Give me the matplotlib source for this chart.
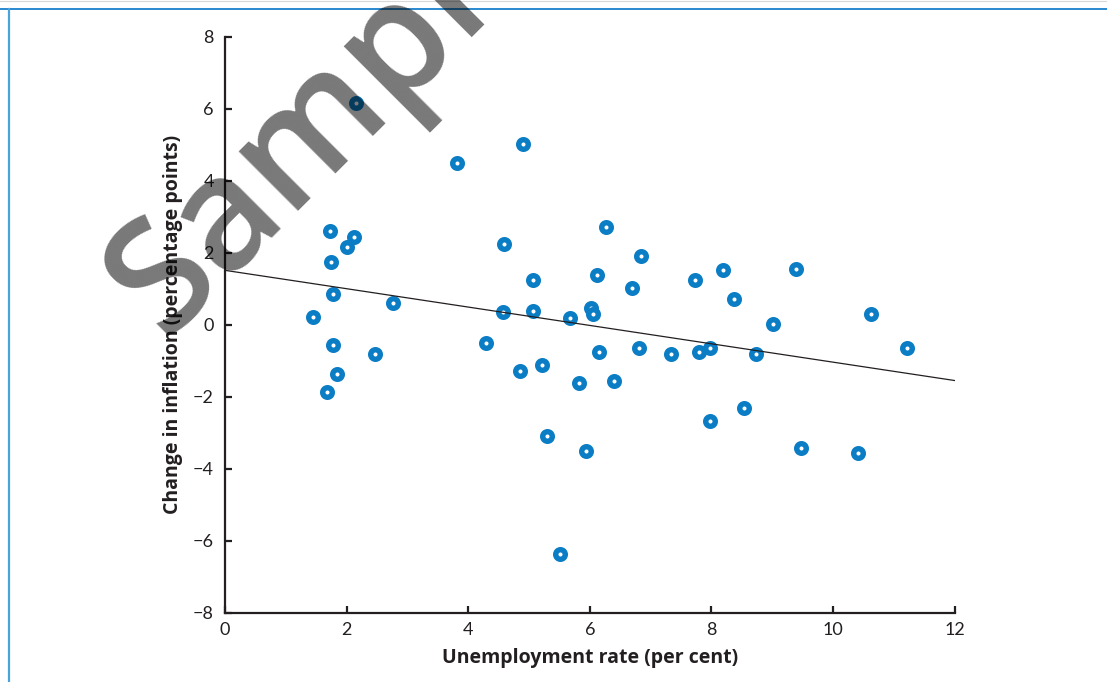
import matplotlib
matplotlib.use("Agg")
import matplotlib.pyplot as plt
from matplotlib.lines import Line2D

# ---- data ----
unemployment = [2.15, 3.82, 4.91, 6.27, 4.59, 6.84, 5.06, 6.12, 6.70, 7.73,
                8.19, 8.37, 9.40, 9.02, 4.58, 5.07, 5.68, 6.02, 6.05, 4.30,
                6.15, 6.81, 7.33, 7.80, 7.97, 8.74, 4.86, 5.21, 5.83, 6.40,
                5.30, 5.94, 7.97, 8.54, 5.51, 9.48, 10.63, 11.22, 10.42, 1.72,
                2.12, 2.01, 1.74, 1.77, 1.45, 1.77, 2.47, 1.84, 1.67, 2.77]
inflation_change = [6.15, 4.49, 5.02, 2.72, 2.25, 1.92, 1.24, 1.37, 1.03, 1.24,
                    1.51, 0.71, 1.56, 0.02, 0.36, 0.39, 0.18, 0.46, 0.29, -0.52,
                    -0.76, -0.64, -0.80, -0.77, -0.64, -0.80, -1.28, -1.12, -1.62, -1.56,
                    -3.09, -3.51, -2.67, -2.31, -6.37, -3.43, 0.31, -0.64, -3.56, 2.60,
                    2.44, 2.15, 1.75, 0.85, 0.22, -0.57, -0.81, -1.38, -1.87, 0.60]
fit_x = [0, 12]
fit_y = [1.51, -1.55]
x_ticks = [0, 2, 4, 6, 8, 10, 12]
y_ticks = [-8, -6, -4, -2, 0, 2, 4, 6, 8]

BLUE = "#0b7dc4"
INK = "#231f20"

plt.rcParams['font.family'] = ['Lato', 'DejaVu Sans']

fig = plt.figure(figsize=(11.07, 6.82), dpi=100)
ax = fig.add_axes([225/1107, 69.3/682, (954.5-225)/1107, (645.3-69.3)/682])

ax.plot(unemployment, inflation_change, linestyle='none', marker='o',
        ms=6.9, mew=3.9, mfc='white', mec=BLUE, zorder=2, clip_on=False)
ax.plot(fit_x, fit_y, color=INK, lw=0.9, zorder=3)

ax.set_xlim(0, 12)
ax.set_ylim(-8, 8)
ax.set_xticks(x_ticks)
ax.set_yticks(y_ticks)
ax.set_xticklabels([str(t) for t in x_ticks])
ax.set_yticklabels([str(t).replace('-', '\u2212') for t in y_ticks])

for s in ['top', 'right']:
    ax.spines[s].set_visible(False)
for s in ['left', 'bottom']:
    ax.spines[s].set_linewidth(1.6)
    ax.spines[s].set_color(INK)
    ax.spines[s].set_capstyle('projecting')

ax.tick_params(direction='in', length=5, width=1.6, color=INK,
               labelsize=13, labelcolor=INK)
ax.tick_params(axis='y', pad=8)
ax.tick_params(axis='x', pad=7)

ax.set_xlabel('Unemployment rate (per cent)', fontsize=14, fontweight='bold',
              family=['Open Sans', 'DejaVu Sans'], color=INK, labelpad=7)
ax.set_ylabel('Change in inflation (percentage points)', fontsize=14,
              fontweight='bold', family=['Open Sans', 'DejaVu Sans'],
              color=INK, labelpad=7)

# page frame lines
fig.add_artist(Line2D([0, 1], [1 - 8.5/682, 1 - 8.5/682], transform=fig.transFigure,
                      color='#1a80cc', lw=1.3))
fig.add_artist(Line2D([9/1107, 9/1107], [0, 1 - 8.5/682], transform=fig.transFigure,
                      color='#4aa3dc', lw=1.6))
fig.add_artist(Line2D([0, 1], [1 - 0.5/682, 1 - 0.5/682], transform=fig.transFigure,
                      color='#d8d8d8', lw=0.8))

# watermark
fig.text(164/1107, 1 - 338/682, 'Sample', fontsize=112,
         family=['Open Sans', 'DejaVu Sans'], fontweight='semibold',
         color='black', alpha=0.53, rotation=45, rotation_mode='anchor',
         ha='left', va='baseline', zorder=10)

fig.savefig('out.png', dpi=100)
